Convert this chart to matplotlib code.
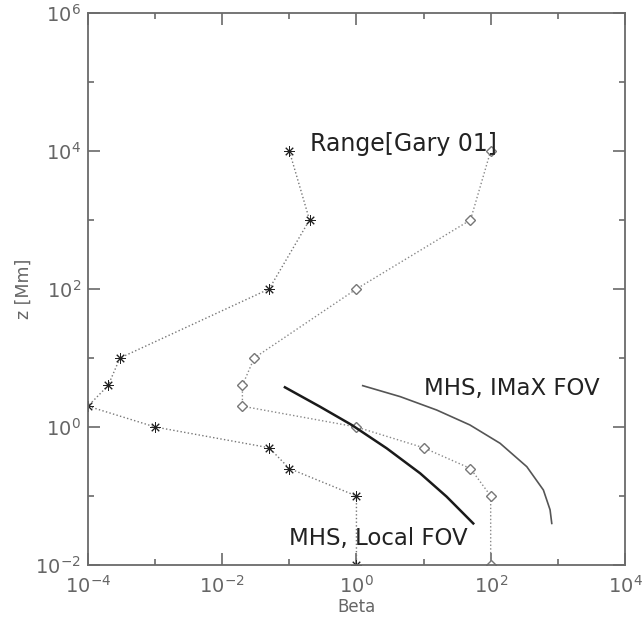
import matplotlib
matplotlib.use('Agg')
import matplotlib.pyplot as plt
from matplotlib.ticker import NullFormatter

# Range [Gary 01] lower bound (asterisks) and upper bound (diamonds)
z_range = [1e4, 1e3, 100, 10, 4, 2, 1, 0.5, 0.25, 0.1, 0.01]
beta_low = [0.1, 0.2, 0.05, 3e-4, 2e-4, 1e-4, 1e-3, 0.05, 0.1, 1, 1]
beta_high = [100, 50, 1, 0.03, 0.02, 0.02, 1, 10, 50, 100, 100]

# MHS model, local FOV
beta_local = [0.086, 0.286, 0.85, 2.83, 8.9, 22, 39, 55]
z_local = [3.76, 1.97, 1.07, 0.49, 0.213, 0.098, 0.056, 0.040]

# MHS model, IMaX FOV
beta_imax = [1.24, 4.5, 15.7, 49, 138, 345, 610, 767, 813]
z_imax = [3.97, 2.75, 1.76, 1.07, 0.58, 0.266, 0.122, 0.063, 0.040]

axcol = '#6a6a6a'

fig = plt.figure(figsize=(6.42, 6.18), dpi=100)
ax = fig.add_axes([0.137, 0.0858, 0.8364, 0.8932])

ax.plot(beta_low, z_range, ls=':', lw=1.0, color='#777777',
        marker=(8, 2, 0), ms=7.5, mec='#222222', mew=0.7)
ax.plot(beta_high, z_range, ls=':', lw=1.0, color='#888888',
        marker='D', ms=5, mfc='white', mec='#777777', mew=1.0)
ax.plot(beta_local, z_local, color='#1a1a1a', lw=1.8)
ax.plot(beta_imax, z_imax, color='#555555', lw=1.2)

ax.set_xscale('log')
ax.set_yscale('log')
ax.set_xlim(1e-4, 1e4)
ax.set_ylim(1e-2, 1e6)
ax.set_xticks([1e-4, 1e-2, 1, 1e2, 1e4])
ax.set_xticks([1e-3, 1e-1, 10, 1e3], minor=True)
ax.set_yticks([1e-2, 1, 1e2, 1e4, 1e6])
ax.set_yticks([1e-1, 10, 1e3, 1e5], minor=True)
ax.xaxis.set_minor_formatter(NullFormatter())
ax.yaxis.set_minor_formatter(NullFormatter())

ax.tick_params(which='both', direction='in', top=True, right=True,
               color=axcol, width=1.2, labelcolor='#666666', labelsize=14)
ax.tick_params(which='major', length=8.5)
ax.tick_params(which='minor', length=4.5)
ax.tick_params(axis='x', pad=7)
ax.tick_params(axis='y', pad=5)
for s in ax.spines.values():
    s.set_color(axcol)
    s.set_linewidth(1.3)

ax.set_xlabel('Beta', color='#666666', fontsize=12, labelpad=1)
ax.set_ylabel('z [Mm]', color='#666666', fontsize=12.5, labelpad=2)

ax.text(0.2, 1e4, 'Range[Gary 01]', fontsize=17, color='#222222',
        va='baseline', ha='left')
ax.text(10, 2.9, 'MHS, IMaX FOV', fontsize=16.5, color='#222222',
        va='baseline', ha='left')
ax.text(0.1, 0.0195, 'MHS, Local FOV', fontsize=16.5, color='#222222',
        va='baseline', ha='left')

fig.savefig('out.png', dpi=100, facecolor='white')
